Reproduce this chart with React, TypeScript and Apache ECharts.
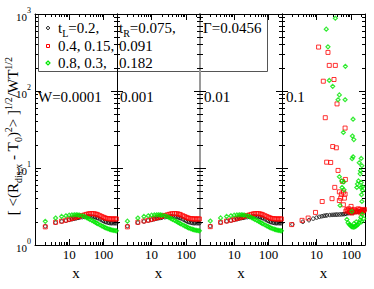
import React, { useEffect, useRef } from "react";
import * as echarts from "echarts";

const SERIF = "'Liberation Serif', 'DejaVu Serif', serif";

const panelLabels = ["W=0.0001", "0.001", "0.01", "0.1"];
const xTickLabels = [10, 100];
const yTickExponents = [0, 1, 2, 3];

const legendCol1 = ["t{sub|L}=0.2,", "0.4, 0.15,", "0.8, 0.3,"];
const legendCol2 = ["t{sub|R}=0.075,", "0.091", "0.182"];
const legendCol3 = ["Γ=0.0456", "", ""];

const xs = [2, 4, 6, 8, 10, 12, 14, 16, 18, 20, 24, 28, 32, 36, 40, 46, 52, 58, 64, 70, 80, 90, 100, 110, 120, 135, 150, 165, 180, 200, 220, 240];

// W = 0.0001
const black1 = [1.75, 1.95, 2.02, 2.07, 2.12, 2.16, 2.19, 2.22, 2.25, 2.27, 2.3, 2.32, 2.34, 2.35, 2.35, 2.34, 2.32, 2.29, 2.26, 2.22, 2.16, 2.1, 2.05, 2.01, 1.98, 1.95, 1.93, 1.92, 1.92, 1.92, 1.92, 1.92];
const red1 = [1.72, 1.97, 2.04, 2.1, 2.16, 2.21, 2.26, 2.3, 2.34, 2.37, 2.42, 2.46, 2.5, 2.53, 2.55, 2.56, 2.55, 2.53, 2.5, 2.46, 2.4, 2.34, 2.29, 2.25, 2.22, 2.2, 2.19, 2.18, 2.18, 2.18, 2.18, 2.18];
const green1 = [2.03, 2.24, 2.35, 2.4, 2.44, 2.46, 2.47, 2.47, 2.46, 2.44, 2.4, 2.34, 2.27, 2.21, 2.15, 2.08, 2.02, 1.97, 1.92, 1.88, 1.82, 1.77, 1.73, 1.69, 1.66, 1.63, 1.6, 1.58, 1.56, 1.55, 1.54, 1.53];
// W = 0.001
const black2 = [1.76, 1.95, 2.02, 2.08, 2.12, 2.16, 2.2, 2.23, 2.25, 2.27, 2.3, 2.32, 2.34, 2.35, 2.35, 2.34, 2.32, 2.29, 2.26, 2.22, 2.16, 2.1, 2.05, 2.01, 1.98, 1.95, 1.93, 1.92, 1.92, 1.92, 1.92, 1.92];
const red2 = [1.72, 1.97, 2.05, 2.1, 2.16, 2.21, 2.26, 2.3, 2.34, 2.37, 2.42, 2.46, 2.5, 2.53, 2.55, 2.56, 2.55, 2.53, 2.5, 2.46, 2.4, 2.34, 2.29, 2.25, 2.22, 2.2, 2.19, 2.18, 2.18, 2.18, 2.18, 2.18];
const green2 = [2.04, 2.24, 2.35, 2.4, 2.44, 2.46, 2.47, 2.47, 2.46, 2.44, 2.4, 2.34, 2.27, 2.21, 2.15, 2.08, 2.02, 1.97, 1.92, 1.88, 1.82, 1.77, 1.73, 1.69, 1.66, 1.63, 1.6, 1.58, 1.56, 1.55, 1.54, 1.53];
// W = 0.01
const black3 = [1.76, 1.96, 2.03, 2.08, 2.12, 2.16, 2.2, 2.23, 2.25, 2.27, 2.3, 2.32, 2.34, 2.35, 2.35, 2.34, 2.32, 2.29, 2.26, 2.22, 2.16, 2.1, 2.05, 2.01, 1.98, 1.95, 1.93, 1.92, 1.92, 1.92, 1.92, 1.92];
const red3 = [1.73, 1.97, 2.05, 2.1, 2.16, 2.21, 2.26, 2.3, 2.34, 2.37, 2.42, 2.46, 2.5, 2.53, 2.55, 2.56, 2.55, 2.53, 2.5, 2.46, 2.4, 2.34, 2.29, 2.25, 2.22, 2.2, 2.19, 2.18, 2.18, 2.18, 2.18, 2.18];
const green3 = [2.05, 2.25, 2.35, 2.4, 2.44, 2.46, 2.47, 2.47, 2.46, 2.44, 2.4, 2.34, 2.27, 2.21, 2.15, 2.08, 2.02, 1.97, 1.92, 1.88, 1.82, 1.77, 1.73, 1.69, 1.66, 1.63, 1.6, 1.58, 1.56, 1.55, 1.54, 1.53];
// W = 0.1
const black4 = [1.85, 2.0, 2.1, 2.2, 2.27, 2.32, 2.36, 2.39, 2.41, 2.43, 2.45, 2.46, 2.47, 2.48, 2.48, 2.49, 2.5, 2.51, 2.52, 2.54, 2.58, 2.6, 2.62, 2.64, 2.66, 2.68, 2.7, 2.72, 2.75, 2.78, 2.8, 2.82];
const red4: [number, number][] = [
  [1.9, 1.84], [3.8, 2.09], [5.7, 2.24], [9.3, 2.65], [14.5, 3.67],
  [11.4, 372], [21.3, 317], [23.2, 215], [34.7, 215], [15.6, 134], [31.8, 141],
  [38.9, 68], [17.8, 45], [66.5, 33], [29.2, 19], [37.1, 18.3], [19.5, 11.9],
  [25.5, 11.8], [41.6, 9.3], [67.8, 7.1], [55.5, 6.7], [33.4, 5.6], [45.4, 4.9],
  [59.3, 4.86], [66.5, 4.58], [51.9, 4.58], [27.9, 4.0], [49.8, 4.06], [63.4, 4.06],
  [45.4, 3.78], [59.3, 3.33], [99, 3.17],
  [70, 2.75], [75, 2.9], [80, 2.8], [85, 2.95], [90, 2.7], [95, 2.65], [100, 2.85],
  [105, 2.6], [110, 2.75], [120, 2.9], [130, 2.7], [135, 2.8], [150, 2.7], [160, 2.95],
  [165, 2.85], [180, 2.9], [190, 2.6], [200, 2.75], [210, 2.7], [220, 2.85], [230, 2.8], [240, 2.9],
];
const green4: [number, number][] = [
  [34.7, 880], [19.0, 635], [21.3, 375], [67.8, 209], [23.2, 137], [29.2, 115],
  [45.4, 89], [41.6, 77], [66.5, 77], [113, 43], [59.3, 29], [108, 26], [119, 23.4],
  [194, 13.3], [113, 14], [106, 13.2], [170, 11.7], [203, 10.7], [185, 9.2], [181, 8.4],
  [45.4, 7.7], [53.3, 6.8], [61, 6.6], [162, 6.8], [194, 6.5], [151, 6.2], [212, 5.7],
  [190, 5.6], [145, 5.6], [212, 5.1], [54.4, 5.6], [62, 5.2], [198, 4.5],
  [47.6, 3.26], [203, 3.67], [104, 2.73],
  [75, 2.15], [81, 1.95], [88, 1.85], [95, 1.8], [100, 1.75], [106, 1.72], [115, 1.7],
  [125, 1.72], [135, 1.75], [145, 1.8], [158, 1.85], [170, 1.95], [181, 2.1], [190, 2.3],
  [200, 2.0], [210, 2.5], [230, 2.2], [120, 1.9], [140, 2.0],
];

const blackSets = [black1, black2, black3, black4];
const redSets = [red1, red2, red3];
const greenSets = [green1, green2, green3];

const X_MIN = 1;
const X_MAX = 250;
const Y_MIN = 1;
const Y_MAX = 1000;

const gridLeft = [35, 117, 200, 282];
const gridWidth = [82, 83, 82, 83];
const GRID_TOP = 14;
const GRID_H = 231;

const minorDecadeX = [2, 3, 4, 5, 6, 7, 8, 9, 20, 30, 40, 50, 60, 70, 80, 90, 200];
const minorDecadeY = [2, 3, 4, 5, 6, 7, 8, 9, 20, 30, 40, 50, 60, 70, 80, 90, 200, 300, 400, 500, 600, 700, 800, 900];

export default function App() {
  const ref = useRef<HTMLDivElement>(null);
  useEffect(() => {
    if (!ref.current) return;
    const chart = echarts.init(ref.current, undefined, { renderer: "svg" });
    const grids: any[] = [];
    const xAxes: any[] = [];
    const yAxes: any[] = [];
    const series: any[] = [];
    const xMinorVals = minorDecadeX.map((v) => Math.log10(v));
    const yMinorVals = minorDecadeY.map((v) => Math.log10(v));
    const gray = "#9a9a9a";
    for (let i = 0; i < 4; i++) {
      grids.push({ left: gridLeft[i], top: GRID_TOP, width: gridWidth[i], height: GRID_H });
      const lineFor = (pos: string) => {
        let color = "#000";
        let width = 1;
        if ((i === 2 && pos === "left") || (i === 1 && pos === "right")) {
          color = gray;
          width = 2;
        }
        return { show: true, lineStyle: { color, width } };
      };
      for (const pos of ["bottom", "top"]) {
        xAxes.push({
          type: "log",
          logBase: 10,
          gridIndex: i,
          position: pos,
          min: X_MIN,
          max: X_MAX,
          axisLine: { show: true, lineStyle: { color: "#000", width: 1 } },
          axisTick: { show: true, inside: true, length: 6, lineStyle: { color: "#000" } },
          axisLabel:
            pos === "bottom"
              ? {
                  show: true,
                  margin: 3,
                  color: "#000",
                  fontFamily: SERIF,
                  fontSize: 13,
                  formatter: (v: number) => {
                    const r = Math.round(v);
                    return xTickLabels.indexOf(r) >= 0 ? String(r) : "";
                  },
                }
              : { show: false },
          splitLine: { show: false },
          name: pos === "bottom" ? "x" : "",
          nameLocation: "middle",
          nameGap: 17,
          nameTextStyle: { fontFamily: SERIF, fontSize: 15, color: "#000" },
        });
        xAxes.push({
          type: "value",
          gridIndex: i,
          position: pos,
          min: 0,
          max: Math.log10(X_MAX),
          axisLine: { show: false },
          axisTick: { show: true, inside: true, length: 3, customValues: xMinorVals, lineStyle: { color: "#000" } },
          axisLabel: { show: false },
          splitLine: { show: false },
        });
      }
      for (const pos of ["left", "right"]) {
        yAxes.push({
          type: "log",
          logBase: 10,
          gridIndex: i,
          position: pos,
          min: Y_MIN,
          max: Y_MAX,
          axisLine: lineFor(pos),
          axisTick: { show: true, inside: true, length: 6, lineStyle: { color: "#000" } },
          axisLabel:
            i === 0 && pos === "left"
              ? {
                  show: true,
                  margin: 4,
                  color: "#000",
                  formatter: (v: number) => {
                    const e = Math.round(Math.log10(v));
                    return yTickExponents.indexOf(e) >= 0 ? `{b|10}{s|${e}}` : "";
                  },
                  rich: {
                    b: { fontFamily: SERIF, fontSize: 11, lineHeight: 16, verticalAlign: "bottom", color: "#000" },
                    s: { fontFamily: SERIF, fontSize: 8, lineHeight: 16, verticalAlign: "top", color: "#000" },
                  },
                }
              : { show: false },
          splitLine: { show: false },
        });
        yAxes.push({
          type: "value",
          gridIndex: i,
          position: pos,
          min: 0,
          max: Math.log10(Y_MAX),
          axisLine: { show: false },
          axisTick: { show: true, inside: true, length: 3, customValues: yMinorVals, lineStyle: { color: "#000" } },
          axisLabel: { show: false },
          splitLine: { show: false },
        });
      }
      const xi = i * 4;
      const yi = i * 4;
      const blackData = xs.map((x, k) => [x, blackSets[i][k]]);
      const redData = i < 3 ? xs.map((x, k) => [x, redSets[i][k]]) : red4;
      const greenData = i < 3 ? xs.map((x, k) => [x, greenSets[i][k]]) : green4;
      series.push({
        type: "scatter",
        xAxisIndex: xi,
        yAxisIndex: yi,
        data: blackData,
        symbol: "circle",
        symbolSize: 3.5,
        itemStyle: { color: "rgba(0,0,0,0)", borderColor: "#000", borderWidth: 1 },
      });
      series.push({
        type: "scatter",
        xAxisIndex: xi,
        yAxisIndex: yi,
        data: redData,
        symbol: "rect",
        symbolSize: 4,
        itemStyle: { color: "rgba(0,0,0,0)", borderColor: "#ff0000", borderWidth: 1 },
      });
      series.push({
        type: "scatter",
        xAxisIndex: xi,
        yAxisIndex: yi,
        data: greenData,
        symbol: "diamond",
        symbolSize: 4,
        itemStyle: { color: "rgba(0,0,0,0)", borderColor: "#00e600", borderWidth: 1.2 },
      });
    }

    const rich = {
      sub: { fontFamily: SERIF, fontSize: 10, lineHeight: 20, verticalAlign: "bottom", fill: "#000" },
      sup: { fontFamily: SERIF, fontSize: 10, lineHeight: 20, verticalAlign: "top", fill: "#000" },
      b: { fontFamily: SERIF, fontSize: 15, lineHeight: 20, verticalAlign: "middle", fill: "#000" },
    };
    const txt = (text: string, x: number, y: number, extra: any = {}) => ({
      type: "text",
      x,
      y,
      silent: true,
      style: {
        text,
        fontFamily: SERIF,
        fontSize: 15,
        lineHeight: 20,
        fill: "#000",
        verticalAlign: "middle",
        align: "left",
        rich,
        ...extra,
      },
    });

    const rowY = [28, 46, 63];
    const graphic: any[] = [
      { type: "rect", shape: { x: 38.5, y: 14.5, width: 229, height: 57 }, style: { fill: "none", stroke: "#555", lineWidth: 1 }, silent: true },
      { type: "circle", shape: { cx: 48, cy: rowY[0], r: 1.5 }, style: { fill: "none", stroke: "#000", lineWidth: 1 }, silent: true },
      { type: "rect", shape: { x: 46.5, y: rowY[1] - 1.5, width: 3, height: 3 }, style: { fill: "none", stroke: "#ff0000", lineWidth: 1 }, silent: true },
      { type: "polygon", shape: { points: [[48, rowY[2] - 2], [50, rowY[2]], [48, rowY[2] + 2], [46, rowY[2]]] }, style: { fill: "none", stroke: "#00e600", lineWidth: 1.2 }, silent: true },
    ];
    for (let r = 0; r < 3; r++) {
      graphic.push(txt(legendCol1[r], 58, rowY[r]));
      graphic.push(txt(legendCol2[r], 119, rowY[r]));
      if (legendCol3[r]) graphic.push(txt(legendCol3[r], 203, rowY[r]));
    }
    const labelX = [38, 120, 204, 286];
    for (let i = 0; i < 4; i++) graphic.push(txt(panelLabels[i], labelX[i], 97));
    graphic.push({
      type: "text",
      x: 13,
      y: 136,
      rotation: Math.PI / 2,
      silent: true,
      style: {
        text: "{b|[ <(R}{sub|dis,x}{b| - T}{sub|0}{b|)}{sup|2}{b|> ]}{sup|1/2}{b|/WT}{sup|1/2}",
        align: "center",
        verticalAlign: "middle",
        fontFamily: SERIF,
        fontSize: 15,
        fill: "#000",
        rich,
      },
    });

    chart.setOption({
      animation: false,
      backgroundColor: "#fff",
      grid: grids,
      xAxis: xAxes,
      yAxis: yAxes,
      series,
      graphic,
    });
    return () => chart.dispose();
  }, []);
  return <div ref={ref} style={{ position: "fixed", left: 0, top: 0, width: 374, height: 289 }} />;
}
